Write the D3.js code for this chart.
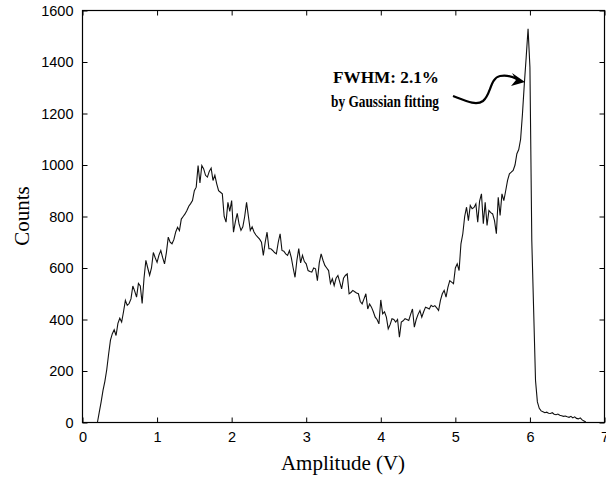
<!DOCTYPE html>
<html>
<head>
<meta charset="utf-8">
<script src="https://cdn.jsdelivr.net/npm/d3@7"></script>
<style>
body { margin: 0; background: #fff; }
svg { display: block; }
</style>
</head>
<body>
<script>
// pulse height spectrum, bins of 0.025 V starting at 0.2 V
var binStart = 0.2;
var binWidth = 0.025;
var counts = [
  0, 40, 80, 125, 160, 205, 265, 320, 345, 360,          // 0.200 - 0.425
  338, 385, 405, 390, 430, 474, 455, 462, 480, 530,      // 0.450 - 0.675
  510, 487, 540, 530, 462, 560, 630, 600, 572, 600,      // 0.700 - 0.925
  660, 640, 622, 650, 668, 640, 616, 660, 720, 700,      // 0.950 - 1.175
  694, 710, 740, 758, 745, 790, 800, 810, 823, 840,      // 1.200 - 1.425
  850, 862, 900, 914, 998, 930, 998, 985, 960, 953,      // 1.450 - 1.675
  975, 988, 940, 960, 927, 900, 894, 888, 800, 778,      // 1.700 - 1.925
  855, 820, 862, 739, 780, 812, 770, 746, 760, 800,      // 1.950 - 2.175
  855, 800, 746, 760, 740, 728, 720, 712, 700, 649,      // 2.200 - 2.425
  700, 739, 675, 675, 668, 660, 655, 700, 733, 668,      // 2.450 - 2.675
  665, 655, 649, 668, 640, 600, 564, 630, 675, 620,      // 2.700 - 2.925
  649, 625, 616, 590, 586, 584, 600, 597, 551, 620,      // 2.950 - 3.175
  655, 630, 610, 600, 590, 540, 558, 532, 560, 571,      // 3.200 - 3.425
  545, 519, 560, 571, 577, 500, 505, 513, 508, 503,      // 3.450 - 3.675
  500, 470, 461, 480, 500, 441, 460, 448, 430, 409,      // 3.700 - 3.925
  400, 383, 476, 422, 430, 409, 364, 380, 403, 400,      // 3.950 - 4.175
  390, 400, 331, 390, 395, 403, 400, 396, 420, 441,      // 4.200 - 4.425
  370, 400, 420, 435, 409, 430, 448, 445, 441, 455,      // 4.450 - 4.675
  450, 454, 445, 435, 474, 500, 513, 487, 525, 551,      // 4.700 - 4.925
  545, 539, 600, 616, 590, 694, 733, 800, 836, 784,      // 4.950 - 5.175
  843, 830, 835, 849, 778, 860, 888, 772, 855, 765,      // 5.200 - 5.425
  823, 815, 810, 784, 733, 875, 804, 888, 862, 900,      // 5.450 - 5.675
  940, 966, 972, 979, 1000, 1044, 1060, 1100, 1199, 1315, // 5.700 - 5.925
  1419, 1529, 1380, 707, 435, 163, 80, 55, 45, 42,       // 5.950 - 6.175
  38, 40, 36, 35, 38, 32, 30, 33, 28, 26,                // 6.200 - 6.425
  24, 25, 22, 20, 24, 18, 22, 16, 14, 18,                // 6.450 - 6.675
  10, 6, 2                                               // 6.700 - 6.750
];
var xTicks = [0, 1, 2, 3, 4, 5, 6, 7];
var yTicks = [0, 200, 400, 600, 800, 1000, 1200, 1400, 1600];
var xLabel = "Amplitude (V)";
var yLabel = "Counts";
var noteLines = ["FWHM: 2.1%", "by Gaussian fitting"];

var width = 606, height = 483;
// plot frame (window.top is read-only, so no "top" here)
var pLeft = 82.5, pRight = 604.5, pTop = 10.5, pBottom = 422.5;

var svg = d3.select("body").append("svg")
    .attr("width", width)
    .attr("height", height);

var x = d3.scaleLinear().domain([0, 7]).range([pLeft, pRight]);
var y = d3.scaleLinear().domain([0, 1600]).range([pBottom, pTop]);

var tickFont = "'Liberation Sans', Arial, sans-serif";

function styleAxis(g) {
  g.select(".domain").remove();
  g.selectAll(".tick line").attr("stroke", "#000").attr("stroke-width", 1);
  g.selectAll(".tick text")
    .attr("font-family", tickFont)
    .attr("font-size", "14.5px")
    .attr("fill", "#000");
}

// bottom
svg.append("g")
    .attr("transform", "translate(0," + pBottom + ")")
    .call(d3.axisBottom(x).tickValues(xTicks).tickFormat(d3.format("d")).tickSizeInner(-5).tickSizeOuter(0).tickPadding(9))
    .call(styleAxis);
// top
svg.append("g")
    .attr("transform", "translate(0," + pTop + ")")
    .call(d3.axisTop(x).tickValues(xTicks).tickFormat("").tickSizeInner(-5).tickSizeOuter(0))
    .call(styleAxis);
// left
svg.append("g")
    .attr("transform", "translate(" + pLeft + ",0)")
    .call(d3.axisLeft(y).tickValues(yTicks).tickFormat(d3.format("d")).tickSizeInner(-5).tickSizeOuter(0).tickPadding(9))
    .call(styleAxis);
// right
svg.append("g")
    .attr("transform", "translate(" + pRight + ",0)")
    .call(d3.axisRight(y).tickValues(yTicks).tickFormat("").tickSizeInner(-5).tickSizeOuter(0))
    .call(styleAxis);

// frame
svg.append("rect")
    .attr("x", pLeft).attr("y", pTop)
    .attr("width", pRight - pLeft).attr("height", pBottom - pTop)
    .attr("fill", "none")
    .attr("stroke", "#000")
    .attr("stroke-width", 1.2);

// spectrum
var line = d3.line()
    .x(function(d, i) { return x(binStart + i * binWidth); })
    .y(function(d) { return y(d); });

svg.append("path")
    .datum(counts)
    .attr("d", line)
    .attr("fill", "none")
    .attr("stroke", "#111")
    .attr("stroke-width", 1.1)
    .attr("stroke-linejoin", "miter");

// axis titles
svg.append("text")
    .attr("x", 343).attr("y", 470)
    .attr("text-anchor", "middle")
    .attr("font-family", "'Liberation Serif', 'Times New Roman', serif")
    .attr("font-size", "21px")
    .text(xLabel);

svg.append("text")
    .attr("transform", "translate(29,216) rotate(-90)")
    .attr("text-anchor", "middle")
    .attr("font-family", "'Liberation Serif', 'Times New Roman', serif")
    .attr("font-size", "21px")
    .text(yLabel);

// annotation (second line is set tighter in the original)
var note = svg.append("text")
    .attr("text-anchor", "end")
    .attr("font-family", "'Liberation Serif', 'Times New Roman', serif")
    .attr("font-size", "16.5px")
    .attr("font-weight", "bold");
note.append("tspan").attr("x", 439).attr("y", 83)
    .attr("textLength", 106).attr("lengthAdjust", "spacingAndGlyphs")
    .text(noteLines[0]);
note.append("tspan").attr("x", 439).attr("y", 107)
    .attr("textLength", 108).attr("lengthAdjust", "spacingAndGlyphs")
    .text(noteLines[1]);

// arrow pointing at the peak
svg.append("path")
    .attr("d", "M453,96 C466,101 476,106 483,101 C491,95 490,78 500,76 C509,74 515,78 519,80")
    .attr("fill", "none")
    .attr("stroke", "#000")
    .attr("stroke-width", 2.2);
svg.append("path")
    .attr("d", "M525,82 L512,73 L516,80 L511,86 Z")
    .attr("fill", "#000");
</script>
</body>
</html>
